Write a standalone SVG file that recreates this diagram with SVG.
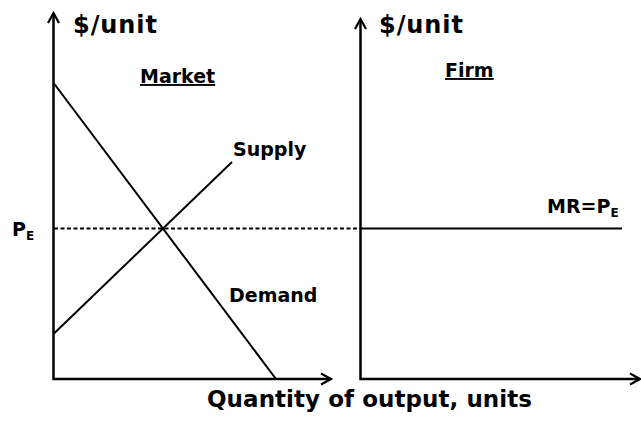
<svg xmlns="http://www.w3.org/2000/svg" width="641" height="421" viewBox="0 0 641 421">
<style>
text{font-family:"DejaVu Sans","Liberation Sans",sans-serif;font-weight:bold;fill:#000}
.t{font-size:24px}
.l{font-size:19px}
.s{font-size:12px}
.q{font-size:23px}
.ax{stroke:#000;stroke-width:2.5;fill:none}
.ln{stroke:#000;stroke-width:2;fill:none}
.dash{stroke:#000;stroke-width:2;stroke-dasharray:4 2.5;fill:none}
</style>
<defs>
<marker id="arr" markerUnits="userSpaceOnUse" markerWidth="14" markerHeight="14" refX="11" refY="6" orient="auto-start-reverse" overflow="visible">
<path d="M1,0.5 L11,6 L1,11.5" fill="none" stroke="#000" stroke-width="2.2"/>
</marker>
</defs>
<rect width="641" height="421" fill="#fff"/>
<g id="connectors">
<polyline id="market-axes" class="ax" points="53.5,13 53.5,379 331,379" marker-start="url(#arr)" marker-end="url(#arr)"/>
<polyline id="firm-axes" class="ax" points="360.5,19 360.5,379 640,379" marker-start="url(#arr)" marker-end="url(#arr)"/>
<line id="demand" class="ln" x1="54" y1="83.5" x2="276" y2="379"/>
<line id="supply" class="ln" x1="54" y1="333.5" x2="232" y2="162"/>
<line id="pe-dash" class="dash" x1="54" y1="228.5" x2="360" y2="228.5"/>
<line id="mr" class="ln" x1="360" y1="228.5" x2="622" y2="228.5"/>
</g>
<g id="market-ylabel"><text class="t" x="73" y="33" textLength="84" lengthAdjust="spacing">$/unit</text></g>
<g id="firm-ylabel"><text class="t" x="379" y="33" textLength="84" lengthAdjust="spacing">$/unit</text></g>
<g id="market-title"><text class="l" x="140" y="83" text-decoration="underline">Market</text></g>
<g id="firm-title"><text class="l" x="445" y="77" text-decoration="underline">Firm</text></g>
<g id="supply-label"><text class="l" x="233" y="156">Supply</text></g>
<g id="demand-label"><text class="l" x="229" y="302">Demand</text></g>
<g id="pe-label"><text class="l" x="12" y="236">P<tspan class="s" dy="4">E</tspan></text></g>
<g id="mr-label"><text class="l" x="547" y="213">MR=P<tspan class="s" dy="4">E</tspan></text></g>
<g id="x-label"><text class="q" x="207" y="407" textLength="325" lengthAdjust="spacing">Quantity of output, units</text></g>
</svg>
